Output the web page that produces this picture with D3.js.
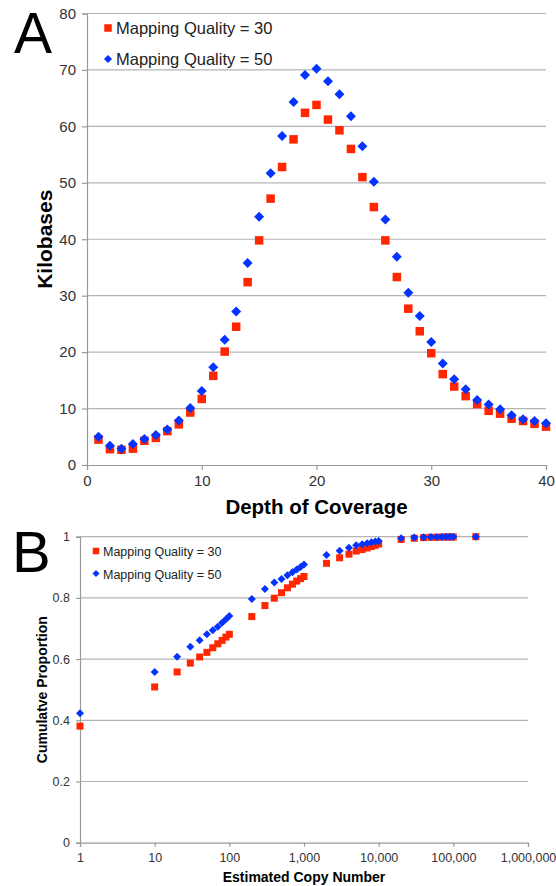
<!DOCTYPE html>
<html>
<head>
<meta charset="utf-8">
<script src="https://cdn.jsdelivr.net/npm/d3@7"></script>
<style>
	body { margin: 0; background: white; }
	text { font-family: "Liberation Sans", Arial, sans-serif; fill: #222; }
</style>
</head>
<body>
<div id="viz"></div>
<script>

// Panel A data: kilobases per depth of coverage
var depth = [1, 2, 3, 4, 5, 6, 7, 8, 9, 10, 11, 12, 13, 14, 15, 16, 17, 18, 19, 20,
	21, 22, 23, 24, 25, 26, 27, 28, 29, 30, 31, 32, 33, 34, 35, 36, 37, 38, 39, 40];
var kbMQ30 = [4.5, 2.8, 2.7, 2.9, 4.3, 4.8, 6.0, 7.2, 9.3, 11.7, 15.8, 20.1, 24.5, 32.4, 39.8, 47.2, 52.8, 57.7, 62.4, 63.8,
	61.2, 59.3, 56.0, 51.0, 45.7, 39.8, 33.3, 27.7, 23.7, 19.8, 16.1, 13.9, 12.2, 10.8, 9.6, 9.1, 8.2, 7.8, 7.3, 6.8];
var kbMQ50 = [5.0, 3.4, 2.9, 3.7, 4.6, 5.3, 6.3, 7.9, 10.1, 13.1, 17.3, 22.2, 27.2, 35.8, 44.0, 51.7, 58.3, 64.3, 69.1, 70.2,
	68.0, 65.7, 61.8, 56.5, 50.2, 43.5, 36.9, 30.5, 26.4, 21.8, 18.0, 15.2, 13.4, 11.5, 10.7, 9.9, 8.8, 8.1, 7.8, 7.4];
var ticksA_y = [0, 10, 20, 30, 40, 50, 60, 70, 80];
var ticksA_x = [0, 10, 20, 30, 40];

// Panel B data: cumulative proportion by estimated copy number
var copyNumber = [1, 10, 20, 30, 40, 50, 60, 70, 80, 90, 100, 200, 300, 400, 500, 600, 700, 800, 900, 1000,
	2000, 3000, 4000, 5000, 6000, 7000, 8000, 9000, 10000,
	20000, 30000, 40000, 50000, 60000, 70000, 80000, 90000, 100000, 200000];
var cumMQ30 = [0.381, 0.509, 0.558, 0.587, 0.607, 0.622, 0.637, 0.650, 0.661, 0.672, 0.681, 0.739, 0.775, 0.799, 0.817, 0.833, 0.845, 0.855, 0.863, 0.870,
	0.913, 0.931, 0.943, 0.953, 0.958, 0.963, 0.968, 0.972, 0.976,
	0.991, 0.995, 0.997, 0.998, 0.998, 0.999, 0.999, 0.999, 0.999, 1.0];
var cumMQ50 = [0.423, 0.558, 0.608, 0.640, 0.662, 0.681, 0.694, 0.706, 0.719, 0.730, 0.741, 0.796, 0.829, 0.850, 0.862, 0.874, 0.884, 0.893, 0.901, 0.909,
	0.940, 0.954, 0.964, 0.972, 0.975, 0.979, 0.982, 0.984, 0.986,
	0.995, 0.997, 0.998, 0.999, 0.999, 0.999, 1.0, 1.0, 1.0, 1.0];
var ticksB_y = [0, 0.2, 0.4, 0.6, 0.8, 1];
var ticksB_x = [1, 10, 100, 1000, 10000, 100000, 1000000];

var seriesNames = ["Mapping Quality = 30", "Mapping Quality = 50"];

var red = "#ff2600",
	blue = "#0433ff",
	gridColor = "#b4b4b4",
	axisColor = "#9a9a9a";

var width = 556,
	height = 886;

var svg = d3.select("#viz")
	.append("svg")
	.attr("width", width)
	.attr("height", height);

// Draws one square / diamond marker group (diamond = square turned 45deg, size = its diagonal)
var drawMarkers = (g, pts, shape, size, color) => {
	var sym = d3.symbol()
		.type(d3.symbolSquare)
		.size(shape == "square" ? size * size : size * size / 2);
	g.selectAll(null)
		.data(pts)
		.enter()
		.append("path")
		.attr("d", sym)
		.attr("transform", d => `translate(${d[0]},${d[1]})` + (shape == "square" ? "" : " rotate(45)"))
		.style("fill", color);
};

// ---------- Panel A ----------
var xA = d3.scaleLinear([0, 40], [87, 546]),
	yA = d3.scaleLinear([0, 80], [465, 13.5]);

var gA = svg.append("g");

gA.selectAll(".gridA")
	.data(ticksA_y.filter(d => d > 0))
	.enter()
	.append("line")
	.attr("x1", xA(0))
	.attr("x2", xA(40))
	.attr("y1", d => yA(d))
	.attr("y2", d => yA(d))
	.style("stroke", gridColor)
	.style("stroke-width", 1.2);

var axAy = gA.append("g")
	.attr("transform", `translate(${xA(0)},0)`)
	.call(d3.axisLeft(yA).tickValues(ticksA_y).tickSize(5).tickPadding(6));
var axAx = gA.append("g")
	.attr("transform", `translate(0,${yA(0)})`)
	.call(d3.axisBottom(xA).tickValues(ticksA_x).tickSize(5).tickPadding(5));
[axAy, axAx].forEach(ax => {
	ax.select(".domain").style("stroke", axisColor).style("stroke-width", 1.2);
	ax.selectAll(".tick line").style("stroke", axisColor).style("stroke-width", 1.2);
	ax.selectAll("text")
		.style("font-family", "Liberation Sans, Arial, sans-serif")
		.style("font-size", "15px")
		.style("fill", "#333");
});

drawMarkers(gA, depth.map((d, i) => [xA(d), yA(kbMQ30[i])]), "square", 8.5, red);
drawMarkers(gA, depth.map((d, i) => [xA(d), yA(kbMQ50[i])]), "diamond", 10, blue);

// Legend A
drawMarkers(gA, [[108, 28]], "square", 7.5, red);
drawMarkers(gA, [[108, 59]], "diamond", 8, blue);
gA.selectAll(".legA")
	.data(seriesNames)
	.enter()
	.append("text")
	.attr("x", 116)
	.attr("y", (d, i) => 34 + i * 31)
	.style("font-size", "16.5px")
	.text(d => d);

gA.append("text")
	.attr("x", 14)
	.attr("y", 53)
	.style("font-size", "57px")
	.style("fill", "#000")
	.text("A");

gA.append("text")
	.attr("transform", `translate(52,${(yA(0) + yA(80)) / 2}) rotate(-90)`)
	.attr("text-anchor", "middle")
	.style("font-size", "21px")
	.style("font-weight", "bold")
	.style("fill", "#000")
	.text("Kilobases");

gA.append("text")
	.attr("x", (xA(0) + xA(40)) / 2)
	.attr("y", 514)
	.attr("text-anchor", "middle")
	.style("font-size", "20.5px")
	.style("font-weight", "bold")
	.style("fill", "#000")
	.text("Depth of Coverage");

// ---------- Panel B ----------
var xB = d3.scaleLog([1, 1000000], [80, 528]),
	yB = d3.scaleLinear([0, 1], [842.7, 536.7]);

var gB = svg.append("g");

gB.selectAll(".gridB")
	.data(ticksB_y.filter(d => d > 0))
	.enter()
	.append("line")
	.attr("x1", xB(1))
	.attr("x2", xB(1000000))
	.attr("y1", d => yB(d))
	.attr("y2", d => yB(d))
	.style("stroke", gridColor)
	.style("stroke-width", 1.2);

var axBy = gB.append("g")
	.attr("transform", `translate(${xB(1)},0)`)
	.call(d3.axisLeft(yB).tickValues(ticksB_y).tickFormat(d3.format("")).tickSize(4).tickPadding(6));
var axBx = gB.append("g")
	.attr("transform", `translate(0,${yB(0)})`)
	.call(d3.axisBottom(xB).tickValues(ticksB_x).tickFormat(d3.format(",")).tickSize(4).tickPadding(6));
[axBy, axBx].forEach(ax => {
	ax.select(".domain").style("stroke", axisColor).style("stroke-width", 1.2);
	ax.selectAll(".tick line").style("stroke", axisColor).style("stroke-width", 1.2);
	ax.selectAll("text")
		.style("font-family", "Liberation Sans, Arial, sans-serif")
		.style("font-size", "12.5px")
		.style("fill", "#333");
});

drawMarkers(gB, copyNumber.map((d, i) => [xB(d), yB(cumMQ30[i])]), "square", 7, red);
drawMarkers(gB, copyNumber.map((d, i) => [xB(d), yB(cumMQ50[i])]), "diamond", 8, blue);

// Legend B
drawMarkers(gB, [[96, 551]], "square", 6.5, red);
drawMarkers(gB, [[96, 573.5]], "diamond", 7, blue);
gB.selectAll(".legB")
	.data(seriesNames)
	.enter()
	.append("text")
	.attr("x", 103)
	.attr("y", (d, i) => 556 + i * 22.5)
	.style("font-size", "12.5px")
	.text(d => d);

gB.append("text")
	.attr("x", 12)
	.attr("y", 572)
	.style("font-size", "58px")
	.style("fill", "#000")
	.text("B");

gB.append("text")
	.attr("transform", `translate(46.5,${(yB(0) + yB(1)) / 2}) rotate(-90)`)
	.attr("text-anchor", "middle")
	.style("font-size", "14px")
	.style("font-weight", "bold")
	.style("fill", "#000")
	.text("Cumulatve Proportion");

gB.append("text")
	.attr("x", (xB(1) + xB(1000000)) / 2)
	.attr("y", 882)
	.attr("text-anchor", "middle")
	.style("font-size", "14px")
	.style("font-weight", "bold")
	.style("fill", "#000")
	.text("Estimated Copy Number");

</script>
</body>
</html>
